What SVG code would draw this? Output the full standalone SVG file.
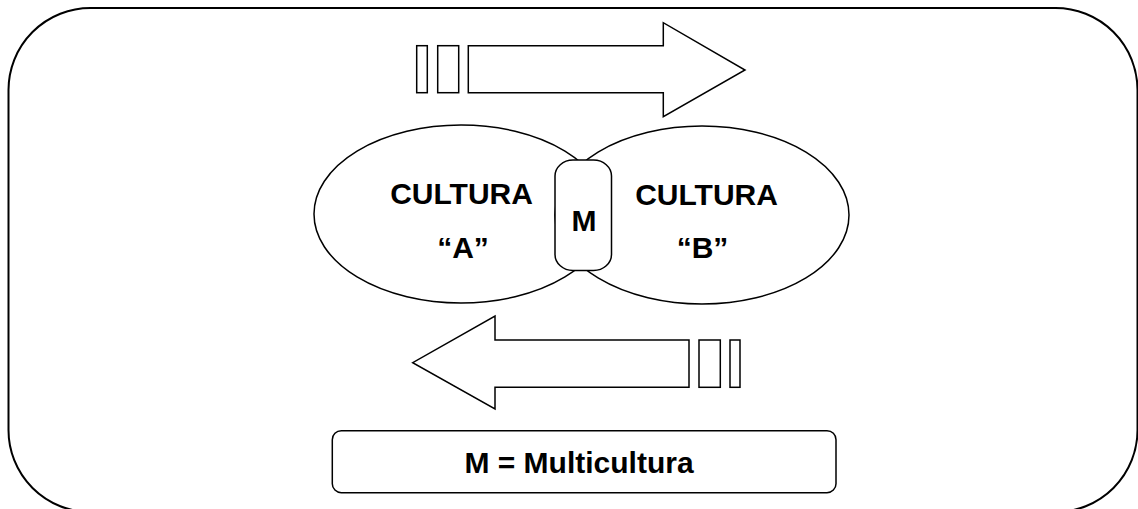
<svg xmlns="http://www.w3.org/2000/svg" width="1138" height="509" viewBox="0 0 1138 509">
<style>
.s{fill:#fff;stroke:#000;stroke-width:1.5}
.n{fill:none;stroke:#000;stroke-width:1.5}
.t{font-family:"Liberation Sans",Arial,sans-serif;font-weight:bold;font-size:30px;fill:#000;text-anchor:middle}
</style>
<rect width="1138" height="509" fill="#fff"/>
<g id="frame"><rect class="n" x="8.5" y="8" width="1129" height="504" rx="82" ry="82" style="stroke-width:2"/></g>
<g id="connectors">
<g id="arrow-right">
<rect class="s" x="416.7" y="45.7" width="10.6" height="47"/>
<rect class="s" x="437.7" y="45.7" width="21" height="47"/>
<polygon class="s" points="468.3,45.7 663.3,45.7 663.3,22.7 745,70 663.3,116.7 663.3,92.7 468.3,92.7"/>
</g>
<g id="arrow-left">
<polygon class="s" points="689,340 495,340 495,316 412.7,362.7 495,409 495,387.3 689,387.3"/>
<rect class="s" x="699" y="340" width="21.3" height="47.3"/>
<rect class="s" x="730" y="340" width="10" height="47.3"/>
</g>
</g>
<g id="cultura-a">
<ellipse class="n" cx="461" cy="214" rx="147" ry="89"/>
<text class="t" x="461.5" y="204">CULTURA</text>
<text class="t" x="463" y="258">“A”</text>
</g>
<g id="cultura-b">
<ellipse class="n" cx="702" cy="215" rx="147" ry="89"/>
<text class="t" x="706.5" y="205">CULTURA</text>
<text class="t" x="702.5" y="258">“B”</text>
</g>
<g id="m">
<rect class="s" x="555" y="160" width="56.5" height="110.5" rx="18" ry="16"/>
<text class="t" x="584" y="231">M</text>
</g>
<g id="legend">
<rect class="s" x="332.3" y="430.7" width="503.7" height="62" rx="9"/>
<text class="t" x="579" y="473.3">M = Multicultura</text>
</g>
</svg>
